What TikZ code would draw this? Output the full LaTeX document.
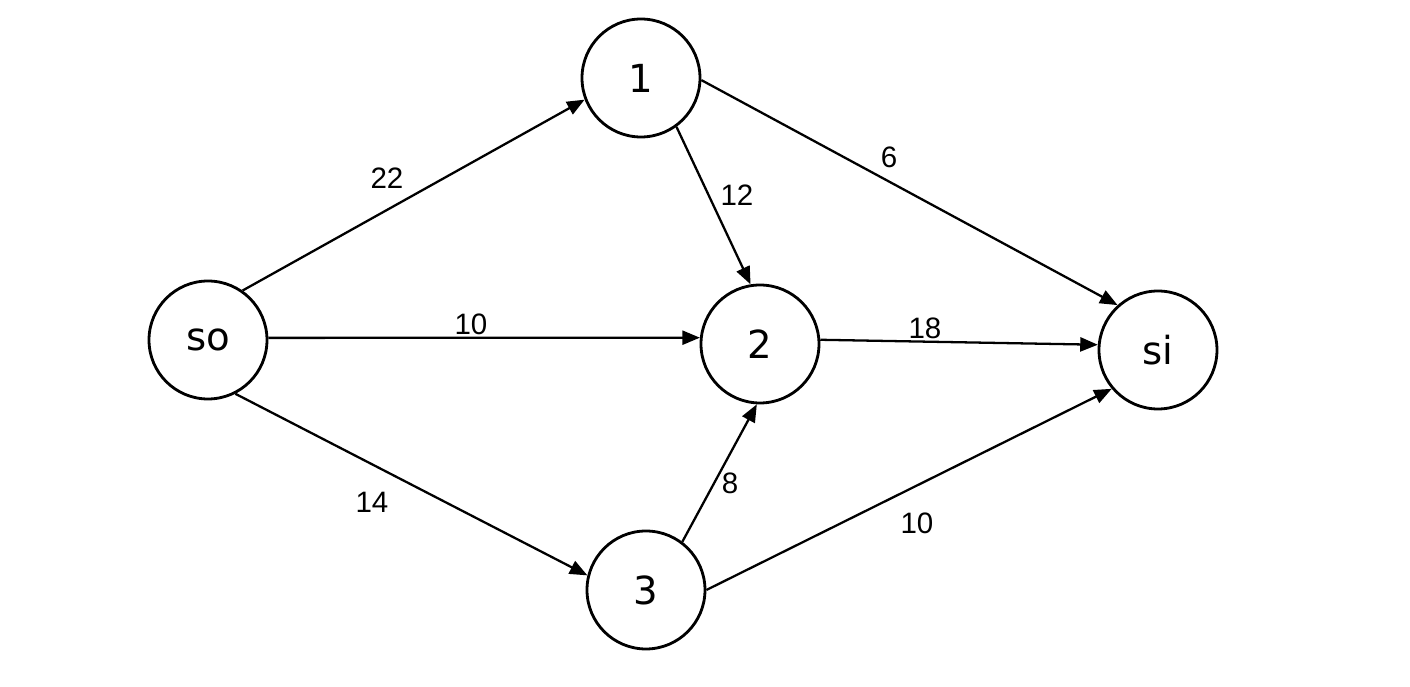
\documentclass[tikz,border=0pt]{standalone}
\usepackage{fontspec}
\setmainfont{DejaVu Sans}
\newfontfamily\lblfont{Liberation Sans}
\usetikzlibrary{arrows.meta,positioning}
\tikzset{
  loc/.style = { draw, circle, line width=0.8pt, minimum size=1.18cm,
    inner sep=0pt, font=\fontsize{11}{13}\selectfont },
  wt/.style  = { inner sep=0pt, font=\lblfont\fontsize{8.4}{10}\selectfont }
}
\begin{document}
\begin{tikzpicture}[line width=0.65pt,>={Triangle[length=5pt,width=4pt]}]
    \useasboundingbox (0,0) rectangle (14.1,6.87);
    % source, inner nodes, sink
    \node[loc] (so) at (2.08,3.47) {so};
    \node[loc] (v1) at (6.41,6.09) {1};
    \node[loc] (v2) at (7.60,3.43) {2};
    \node[loc] (v3) at (6.46,0.97) {3};
    \node[loc] (si) at (11.58,3.37) {si};

    \path[->] (so.55) edge (v1.201);
    \path[->] (so.2) edge (v2.174);
    \path[->] (so.297) edge (v3.166);
    \path[->] (v1.306) edge (v2.99);
    \path[->] (v1.358) edge (si.132);
    \path[->] (v2.4) edge (si.175);
    \path[->] (v3.53) edge (v2.267);
    \path[->] (v3.0) edge (si.220);

    % capacities
    \node[wt] (w01) at (3.87,5.09) {22};
    \node[wt] (w02) at (4.71,3.63) {10};
    \node[wt] (w03) at (3.72,1.85) {14};
    \node[wt] (w12) at (7.37,4.92) {12};
    \node[wt] (w1s) at (8.89,5.30) {6};
    \node[wt] (w2s) at (9.25,3.59) {18};
    \node[wt] (w32) at (7.30,2.04) {8};
    \node[wt] (w3s) at (9.17,1.64) {10};
\end{tikzpicture}
\end{document}
